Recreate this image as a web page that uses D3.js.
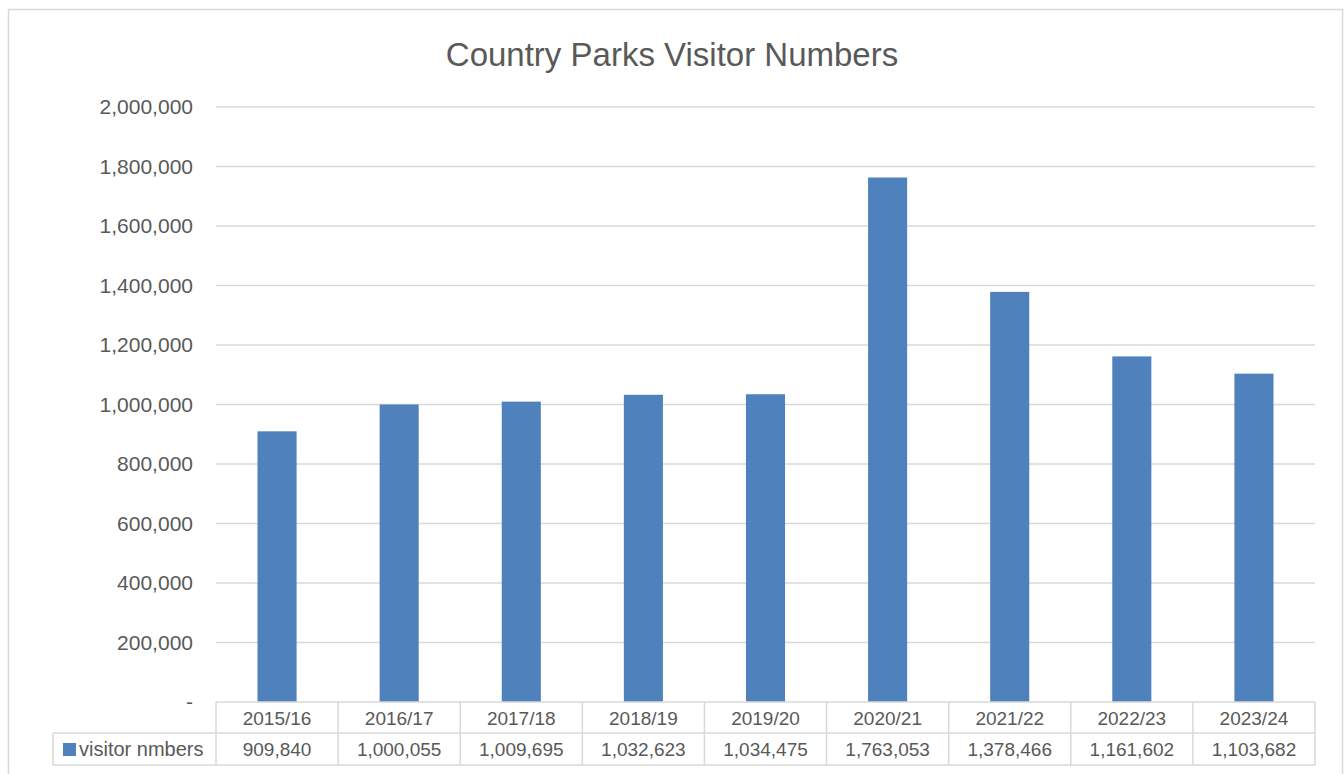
<!DOCTYPE html>
<html>
<head>
<meta charset="utf-8">
<script src="https://cdn.jsdelivr.net/npm/d3@7"></script>
<style>
  body { margin: 0; background: #fff; }
  svg text { font-family: "Liberation Sans", Arial, sans-serif; fill: #595959; }
</style>
</head>
<body>
<div id="chart"></div>
<script>
// data
var years = ["2015/16", "2016/17", "2017/18", "2018/19", "2019/20", "2020/21", "2021/22", "2022/23", "2023/24"];
var visitors = [909840, 1000055, 1009695, 1032623, 1034475, 1763053, 1378466, 1161602, 1103682];
var seriesName = "visitor nmbers";
var yTicks = [0, 200000, 400000, 600000, 800000, 1000000, 1200000, 1400000, 1600000, 1800000, 2000000];

var W = 1344, H = 774;
var plot = { left: 216, right: 1315, top: 107, bottom: 702 };
var rowH = 31;

var svg = d3.select("#chart").append("svg")
    .attr("width", W)
    .attr("height", H);

// chart frame
svg.append("rect")
    .attr("x", 8.5).attr("y", 9.5)
    .attr("width", 1334).attr("height", 780)
    .attr("fill", "#fff")
    .attr("stroke", "#d9d9d9")
    .attr("stroke-width", 1.5);

svg.append("text")
    .attr("x", 672).attr("y", 66)
    .attr("text-anchor", "middle")
    .style("font-size", "33px")
    .text("Country Parks Visitor Numbers");

var x = d3.scaleBand()
    .domain(years)
    .range([plot.left, plot.right])
    .paddingInner(0.68)
    .paddingOuter(0.34);

var y = d3.scaleLinear()
    .domain([0, 2000000])
    .range([plot.bottom, plot.top]);

var fmt = d3.format(",");

// gridlines
svg.append("g").selectAll("line")
    .data(yTicks.slice(1))
    .enter().append("line")
    .attr("x1", plot.left).attr("x2", plot.right)
    .attr("y1", function (d) { return y(d); })
    .attr("y2", function (d) { return y(d); })
    .attr("stroke", "#d9d9d9")
    .attr("stroke-width", 1.5);

// y labels
svg.append("g").selectAll("text")
    .data(yTicks)
    .enter().append("text")
    .attr("x", 193)
    .attr("y", function (d) { return y(d) + 7; })
    .attr("text-anchor", "end")
    .style("font-size", "21px")
    .text(function (d) { return d === 0 ? "-" : fmt(d); });

// bars
svg.append("g").selectAll("rect")
    .data(visitors)
    .enter().append("rect")
    .attr("x", function (d, i) { return x(years[i]); })
    .attr("width", x.bandwidth())
    .attr("y", function (d) { return y(d); })
    .attr("height", function (d) { return y(0) - y(d); })
    .attr("fill", "#4f81bd");

// data table
var step = (plot.right - plot.left) / years.length;
var tbl = svg.append("g").attr("stroke", "#d9d9d9").attr("stroke-width", 1.5);
var t0 = plot.bottom, t1 = t0 + rowH, t2 = t1 + rowH + 1;
tbl.append("line").attr("x1", plot.left).attr("x2", plot.right).attr("y1", t0).attr("y2", t0);
tbl.append("line").attr("x1", 53).attr("x2", plot.right).attr("y1", t1).attr("y2", t1);
tbl.append("line").attr("x1", 53).attr("x2", plot.right).attr("y1", t2).attr("y2", t2);
tbl.append("line").attr("x1", 53).attr("x2", 53).attr("y1", t1).attr("y2", t2);
tbl.selectAll("line.v")
    .data(d3.range(years.length + 1))
    .enter().append("line")
    .attr("class", "v")
    .attr("x1", function (i) { return plot.left + i * step; })
    .attr("x2", function (i) { return plot.left + i * step; })
    .attr("y1", t0).attr("y2", t2);

svg.append("g").selectAll("text")
    .data(years)
    .enter().append("text")
    .attr("x", function (d) { return x(d) + x.bandwidth() / 2; })
    .attr("y", t0 + 23)
    .attr("text-anchor", "middle")
    .style("font-size", "19px")
    .text(function (d) { return d; });

svg.append("g").selectAll("text")
    .data(visitors)
    .enter().append("text")
    .attr("x", function (d, i) { return x(years[i]) + x.bandwidth() / 2; })
    .attr("y", t1 + 23)
    .attr("text-anchor", "middle")
    .style("font-size", "19px")
    .text(function (d) { return fmt(d); });

svg.append("rect")
    .attr("x", 63).attr("y", t1 + 10)
    .attr("width", 13).attr("height", 13)
    .attr("fill", "#4f81bd");
svg.append("text")
    .attr("x", 79).attr("y", t1 + 23)
    .style("font-size", "20px")
    .text(seriesName);
</script>
</body>
</html>
